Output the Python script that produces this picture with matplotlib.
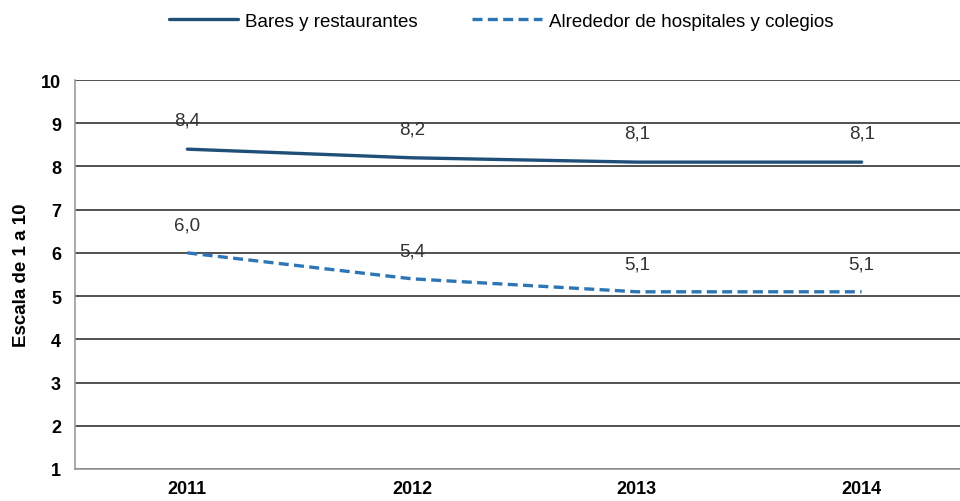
import numpy as np
import matplotlib.pyplot as plt

# data
years = ['2011', '2012', '2013', '2014']
bares = [8.4, 8.2, 8.1, 8.1]
hospitales = [6.0, 5.4, 5.1, 5.1]
serie_names = ['Bares y restaurantes', 'Alrededor de hospitales y colegios']

plt.rcParams['font.family'] = ['Liberation Sans', 'DejaVu Sans']

fig = plt.figure(figsize=(9.6, 5.02), dpi=100)
ax = fig.add_axes([75/960, 32/502, 899/960, 389/502])

x = np.arange(len(years))
l1, = ax.plot(x, bares, color='#1f4e79', lw=2.4, solid_capstyle='round')
l2, = ax.plot(x, hospitales, color='#2e75b6', lw=2.4, ls=(0, (3, 1.6)))

for xi, v in zip(x, bares):
    ax.annotate(f'{v:.1f}'.replace('.', ','), (xi, v), xytext=(0, 21), textcoords='offset points',
                ha='center', va='center', fontsize=13.5, color='#333333')
for xi, v in zip(x, hospitales):
    ax.annotate(f'{v:.1f}'.replace('.', ','), (xi, v), xytext=(0, 20), textcoords='offset points',
                ha='center', va='center', fontsize=13.5, color='#333333')

ax.set_xlim(-0.5, 3.5)
ax.set_ylim(1, 10)
ax.set_yticks(range(1, 11))
ax.set_xticks(x)
ax.set_xticklabels(years)
ax.grid(axis='y', color='#333333', lw=1.2)
ax.set_axisbelow(True)
for s in ['top', 'right']:
    ax.spines[s].set_visible(False)
ax.spines['left'].set_color('#999999')
ax.spines['bottom'].set_color('#999999')
ax.spines['left'].set_linewidth(1.2)
ax.spines['bottom'].set_linewidth(1.2)
ax.tick_params(length=0, labelsize=13, pad=10)
for t in ax.get_xticklabels() + ax.get_yticklabels():
    t.set_fontweight('bold')
ax.tick_params(axis='x', pad=8)
ax.set_ylabel('Escala de 1 a 10', fontsize=13.5, fontweight='bold', labelpad=8)

fig.legend([l1, l2], serie_names, loc='center', bbox_to_anchor=(501/960, 1 - 22/502), ncol=2,
           frameon=False, fontsize=13.5, handlelength=3.7, handletextpad=0.37, columnspacing=2.9)

fig.savefig('out.png', dpi=100)
